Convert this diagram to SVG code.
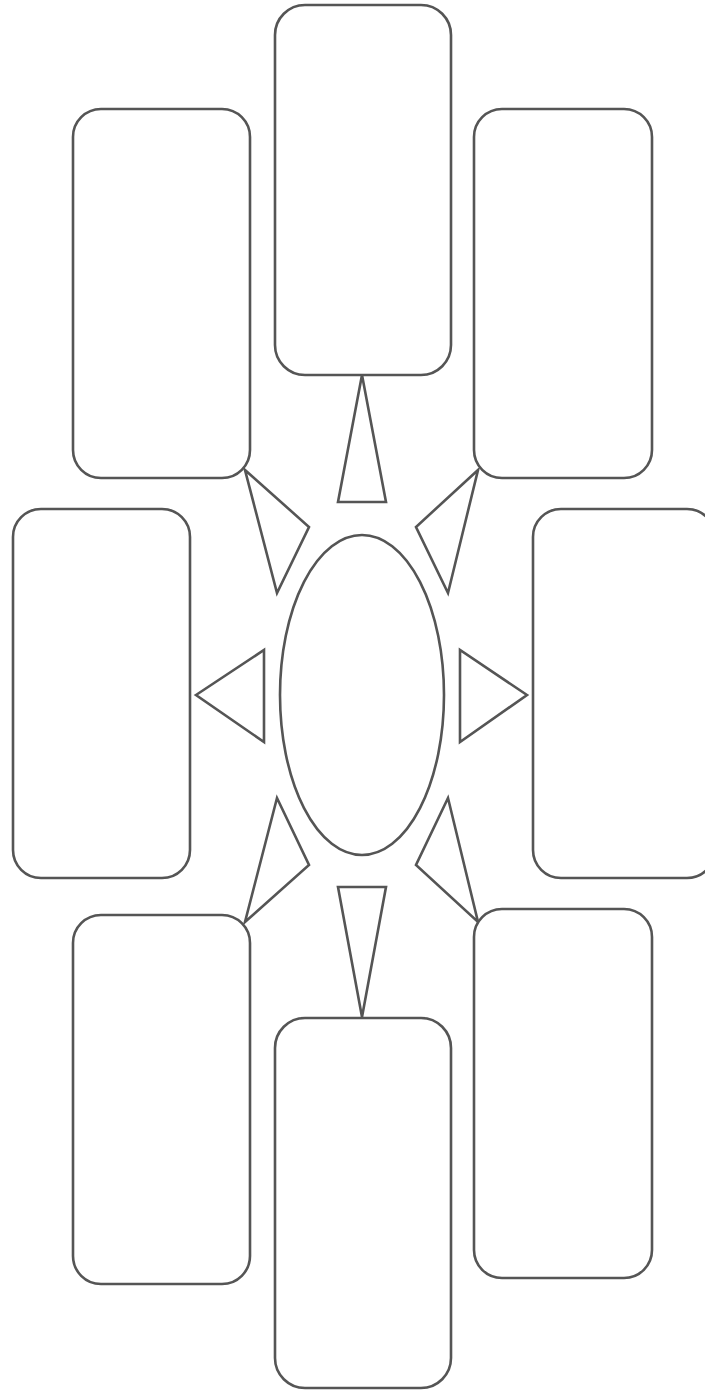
<svg xmlns="http://www.w3.org/2000/svg" width="705" height="1395" viewBox="0 0 705 1395">
<style>
.n{fill:#fff;stroke:#555;stroke-width:2.6}
.c{fill:#fff;stroke:#555;stroke-width:2.6;stroke-linejoin:miter}
</style>
<rect width="705" height="1395" fill="#fff"/>
<g id="connectors">
<polygon class="c" points="362,375 386,502 338,502"/>
<polygon class="c" points="245,470 309,527 277,593"/>
<polygon class="c" points="478,470 416,527 448,593"/>
<polygon class="c" points="196,695 264,650 264,742"/>
<polygon class="c" points="527,695 460,650 460,742"/>
<polygon class="c" points="277,798 309,865 245,922"/>
<polygon class="c" points="448,798 416,865 478,922"/>
<polygon class="c" points="338,887 386,887 362,1017"/>
</g>
<g id="center"><ellipse class="n" cx="362" cy="695" rx="82" ry="160"/></g>
<g id="top"><rect class="n" x="275" y="5" width="176" height="370" rx="30"/></g>
<g id="top-left"><rect class="n" x="73" y="109" width="177" height="369" rx="28"/></g>
<g id="top-right"><rect class="n" x="474" y="109" width="178" height="369" rx="28"/></g>
<g id="mid-left"><rect class="n" x="13" y="509" width="177" height="369" rx="28"/></g>
<g id="mid-right"><rect class="n" x="533" y="509" width="182" height="369" rx="28"/></g>
<g id="bottom-left"><rect class="n" x="73" y="915" width="177" height="369" rx="28"/></g>
<g id="bottom-right"><rect class="n" x="474" y="909" width="178" height="369" rx="28"/></g>
<g id="bottom"><rect class="n" x="275" y="1018" width="176" height="370" rx="30"/></g>
</svg>
